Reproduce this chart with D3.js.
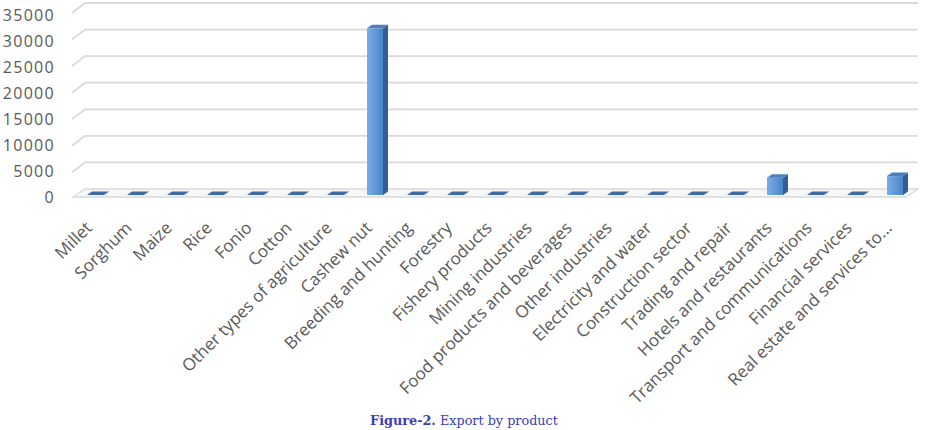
<!DOCTYPE html>
<html><head><meta charset="utf-8">
<script src="https://cdn.jsdelivr.net/npm/d3@7"></script>
<style>body{margin:0;background:#fff}svg{display:block}</style>
</head><body>
<svg id="c" width="925" height="430"></svg>
<script>
const categories = ["Millet","Sorghum","Maize","Rice","Fonio","Cotton","Other types of agriculture","Cashew nut","Breeding and hunting","Forestry","Fishery products","Mining industries","Food products and beverages","Other industries","Electricity and water","Construction sector","Trading and repair","Hotels and restaurants","Transport and communications","Financial services","Real estate and services to..."];
const exportValues = [0,0,0,0,0,0,0,31700,0,0,0,0,0,0,0,0,0,3300,0,0,3600];
const yTicks = [0,5000,10000,15000,20000,25000,30000,35000];
const caption = ["Figure-2.", " Export by product"];

const svg = d3.select("#c");
const defs = svg.append("defs");
const g1 = defs.append("linearGradient").attr("id","front").attr("x1","0").attr("x2","1").attr("y1","0").attr("y2","0");
g1.append("stop").attr("offset","0").attr("stop-color","#78aee6");
g1.append("stop").attr("offset","1").attr("stop-color","#4a84c6");

const x = d3.scaleBand().domain(categories).range([78, 918]).paddingInner(0).paddingOuter(0);
const yBack = d3.scaleLinear().domain([0,35000]).range([189, 3]);
const yLab = d3.scaleLinear().domain([0,35000]).range([197, 15]);
const yBar = d3.scaleLinear().domain([0,35000]).range([195, 11]);

// floor
const fl = [[73,197],[906,197],[918,189],[85,189]];
svg.append("path").attr("d", d3.line()(fl)+"Z").attr("fill","#f7f7f7").attr("stroke","#d9d9d9").attr("stroke-width",1.3);

// gridlines (back wall + side wall slant)
svg.append("g").selectAll("path").data(yTicks.filter(t=>t>0)).join("path")
  .attr("d", t => d3.line()([[72, yBack(t)+10],[85, yBack(t)],[918, yBack(t)]]))
  .attr("fill","none").attr("stroke","#d9d9d9").attr("stroke-width",1.8);

// y labels
svg.append("g").selectAll("text").data(yTicks).join("text")
  .attr("x", 55).attr("y", t => yLab(t)).attr("dy","0.35em")
  .attr("text-anchor","end").attr("font-family","Open Sans").attr("font-size",16)
  .attr("letter-spacing",1.3).attr("fill","#595959").text(t => t);

// bars
const bars = svg.append("g").selectAll("g").data(categories.map((c,i)=>({c, v: exportValues[i]}))).join("g");
bars.each(function(d){
  const gg = d3.select(this);
  const c = x(d.c) + x.bandwidth()/2;
  const l = c - 11, r = c + 5, ox = 5, oy = 3.5;
  const top = yBar(d.v), bot = yBar(0);
  if (d.v > 0) {
    gg.append("rect").attr("x", l).attr("y", top).attr("width", r-l).attr("height", bot-top).attr("fill","url(#front)");
    gg.append("path").attr("d", d3.line()([[r,bot],[r,top],[r+ox,top-oy],[r+ox,bot-oy]])+"Z").attr("fill","#2f5f96");
    gg.append("path").attr("d", d3.line()([[l,top],[r,top],[r+ox,top-oy],[l+ox,top-oy]])+"Z").attr("fill","#4c7fbb");
  } else {
    gg.append("path").attr("d", d3.line()([[l,bot],[r+1,bot],[r+1+ox,bot-oy],[l+ox,bot-oy]])+"Z").attr("fill","#3d6aa0");
  }
});

// x labels
svg.append("g").selectAll("text").data(categories).join("text")
  .attr("transform", c => `translate(${x(c)+x.bandwidth()/2-5},229) rotate(-45)`)
  .attr("text-anchor","end").attr("font-family","Open Sans").attr("font-size",17)
  .attr("fill","#595959").text(c => c);

// caption
const cap = svg.append("text").attr("x", 464).attr("y", 425).attr("text-anchor","middle")
  .attr("font-family","DejaVu Serif").attr("font-size",12.8).attr("fill","#3c3cb4");
cap.append("tspan").attr("font-weight","bold").text(caption[0]);
cap.append("tspan").text(caption[1]);
</script>
</body></html>
